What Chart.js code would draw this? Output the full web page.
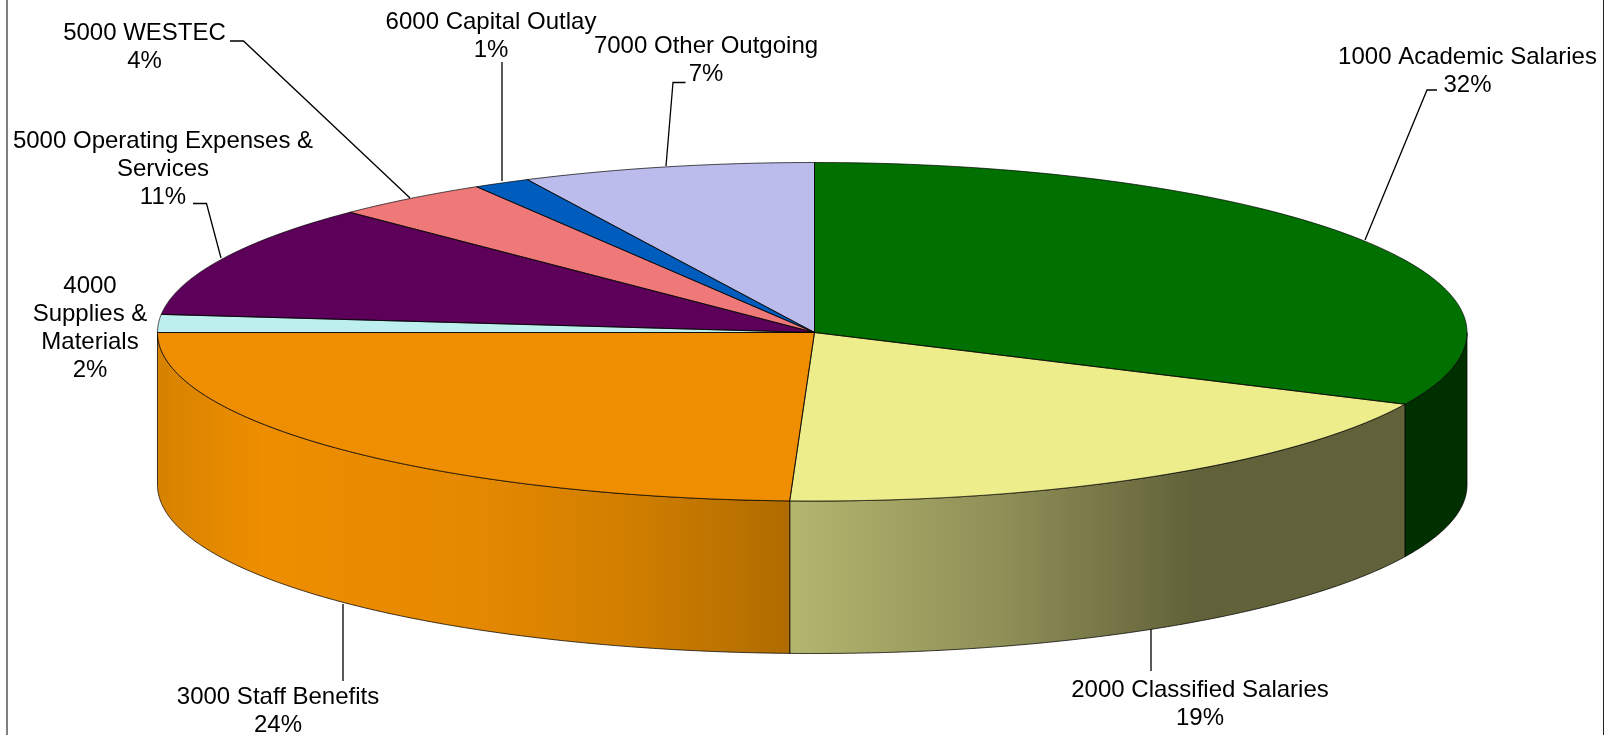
<!DOCTYPE html>
<html>
<head>
<meta charset="utf-8">
<title>Expenditure by object</title>
<script src="https://cdn.jsdelivr.net/npm/chart.js@4"></script>
<style>
    html, body { margin: 0; padding: 0; background: #fff; overflow: hidden; }
    canvas { display: block; }
</style>
</head>
<body>
<canvas id="mainChart" width="1619" height="735"></canvas>
<script>
// categories and values (share of total, %)
const categories = [
    '1000 Academic Salaries',
    '2000 Classified Salaries',
    '3000 Staff Benefits',
    '4000 Supplies & Materials',
    '5000 Operating Expenses & Services',
    '5000 WESTEC',
    '6000 Capital Outlay',
    '7000 Other Outgoing'
];
const shares = [32, 18.6, 24.4, 1.7, 10.8, 3.9, 1.4, 7.2];
const shareLabels = ['32%', '19%', '24%', '2%', '11%', '4%', '1%', '7%'];
const sliceColors = ['#007000', '#eeed8c', '#ee8e00', '#bdefee', '#5c005a', '#ef7878', '#005dbd', '#bbbceb'];

/* -------------------- LAYOUT -------------------- */

const hub = { x: 814.5, y: 332.5 };
const radii = { left: 657, right: 652.5, top: 170, bottom: 168.5 };
const depth = 152.5;

// wall shading, stops are [canvas x, colour]
const wallShades = [
    [[1362, '#003000'], [1470, '#003000']],
    [[789, '#b5b66e'], [1000, '#8f8f58'], [1195, '#62623a'], [1410, '#62623a']],
    [[157, '#d68200'], [262, '#ee8e00'], [470, '#e58900'], [620, '#d27f00'], [789, '#b06c00']]
];

// label text split over lines, same order as categories
const labelLines = [
    ['1000 Academic Salaries'],
    ['2000 Classified Salaries'],
    ['3000 Staff Benefits'],
    ['4000', 'Supplies &', 'Materials'],
    ['5000 Operating Expenses &', 'Services'],
    ['5000 WESTEC'],
    ['6000 Capital Outlay'],
    ['7000 Other Outgoing']
];
// centre x and first line y
const labelSpots = [
    [1467.5, 57], [1200, 690], [278, 697], [90, 286],
    [163, 141.5], [144.5, 33], [491, 22], [706, 46.5]
];
const labelGap = 28;

const leaders = [
    [[1437, 90], [1427, 90], [1365, 240]],
    [[1151, 629], [1151, 671]],
    [[343, 604], [343, 681]],
    [[193, 203.5], [206.5, 203.5], [221, 258]],
    [[230, 41], [243.5, 41], [410, 198]],
    [[502, 62], [502, 181]],
    [[685.5, 82.5], [673, 82.5], [666, 166]]
];

/* -------------------- HELPERS -------------------- */

function project(theta, drop) {
    const c = Math.cos(theta);
    const s = Math.sin(theta);
    return [
        hub.x + c * (c < 0 ? radii.left : radii.right),
        hub.y + s * (s < 0 ? radii.top : radii.bottom) + drop
    ];
}

function tracePoints(ctx, from, to, drop, first) {
    const steps = Math.max(2, Math.ceil(Math.abs(to - from) / 0.005));
    for (let i = 0; i <= steps; i++) {
        const p = project(from + (to - from) * i / steps, drop);
        if (i === 0 && first) ctx.moveTo(p[0], p[1]);
        else ctx.lineTo(p[0], p[1]);
    }
}

function wallFill(ctx, stops) {
    const x0 = stops[0][0];
    const x1 = stops[stops.length - 1][0];
    const grad = ctx.createLinearGradient(x0, 0, x1, 0);
    stops.forEach(s => grad.addColorStop((s[0] - x0) / (x1 - x0), s[1]));
    return grad;
}

function drawWalls(ctx, arcs) {
    wallShades.forEach((stops, i) => {
        const from = Math.max(arcs[i].startAngle, 0);
        const to = Math.min(arcs[i].endAngle, Math.PI);

        ctx.beginPath();
        tracePoints(ctx, from, to, 0, true);
        tracePoints(ctx, to, from, depth, false);
        ctx.closePath();
        ctx.fillStyle = wallFill(ctx, stops);
        ctx.fill();
        ctx.lineWidth = 1;
        ctx.strokeStyle = 'rgba(0,0,0,0.75)';
        ctx.stroke();
    });
}

// the library draws the arcs, once for each quarter of the squashed ellipse
function drawTop(chart, meta) {
    const ctx = chart.ctx;
    const arc = meta.data[0];
    const R = arc.outerRadius;
    const overlap = 1;

    [[radii.left, 0, hub.x + overlap], [radii.right, hub.x, chart.width - hub.x]].forEach(side => {
        [[radii.top, 0, hub.y + overlap], [radii.bottom, hub.y, chart.height - hub.y]].forEach(band => {
            ctx.save();
            ctx.beginPath();
            ctx.rect(side[1], band[1], side[2], band[2]);
            ctx.clip();
            ctx.translate(hub.x, hub.y);
            ctx.scale(side[0] / R, band[0] / R);
            ctx.translate(-arc.x, -arc.y);
            meta.controller.draw();
            ctx.restore();
        });
    });
}

function outlineTop(ctx, arcs) {
    arcs.forEach(arc => {
        ctx.beginPath();
        ctx.moveTo(hub.x, hub.y);
        tracePoints(ctx, arc.startAngle, arc.endAngle, 0, false);
        ctx.closePath();
        ctx.lineWidth = 1;
        ctx.strokeStyle = 'rgba(0,0,0,0.7)';
        ctx.stroke();
    });
}

function drawLeaders(ctx) {
    ctx.lineWidth = 1.3;
    ctx.strokeStyle = '#000';
    leaders.forEach(line => {
        ctx.beginPath();
        line.forEach((p, i) => i ? ctx.lineTo(p[0], p[1]) : ctx.moveTo(p[0], p[1]));
        ctx.stroke();
    });
}

function drawLabels(ctx) {
    ctx.font = '24px "Liberation Sans", Arial, sans-serif';
    ctx.fillStyle = '#000';
    ctx.textAlign = 'center';
    ctx.textBaseline = 'middle';
    labelLines.forEach((lines, i) => {
        lines.concat(shareLabels[i]).forEach((text, j) => {
            ctx.fillText(text, labelSpots[i][0], labelSpots[i][1] + j * labelGap);
        });
    });
}

function drawFrame(ctx, chart) {
    ctx.fillStyle = '#808080';
    ctx.fillRect(6, 0, 2, chart.height);
    ctx.fillStyle = '#222';
    ctx.fillRect(1603, 0, 1, chart.height);
}

/* -------------------- CHART -------------------- */

const pie3d = {
    id: 'pie3d',
    beforeDatasetsDraw(chart) {
        const ctx = chart.ctx;
        const meta = chart.getDatasetMeta(0);
        const arcs = meta.data.map(el => el.getProps(['startAngle', 'endAngle'], true));

        drawFrame(ctx, chart);
        drawLeaders(ctx);
        drawWalls(ctx, arcs);
        drawTop(chart, meta);
        outlineTop(ctx, arcs);
        drawLabels(ctx);
        return false;
    }
};

new Chart(document.getElementById('mainChart'), {
    type: 'pie',
    data: {
        labels: categories,
        datasets: [{
            data: shares,
            backgroundColor: sliceColors,
            borderWidth: 0
        }]
    },
    options: {
        responsive: false,
        animation: false,
        plugins: {
            legend: { display: false },
            tooltip: { enabled: false }
        }
    },
    plugins: [pie3d]
});
</script>
</body>
</html>
